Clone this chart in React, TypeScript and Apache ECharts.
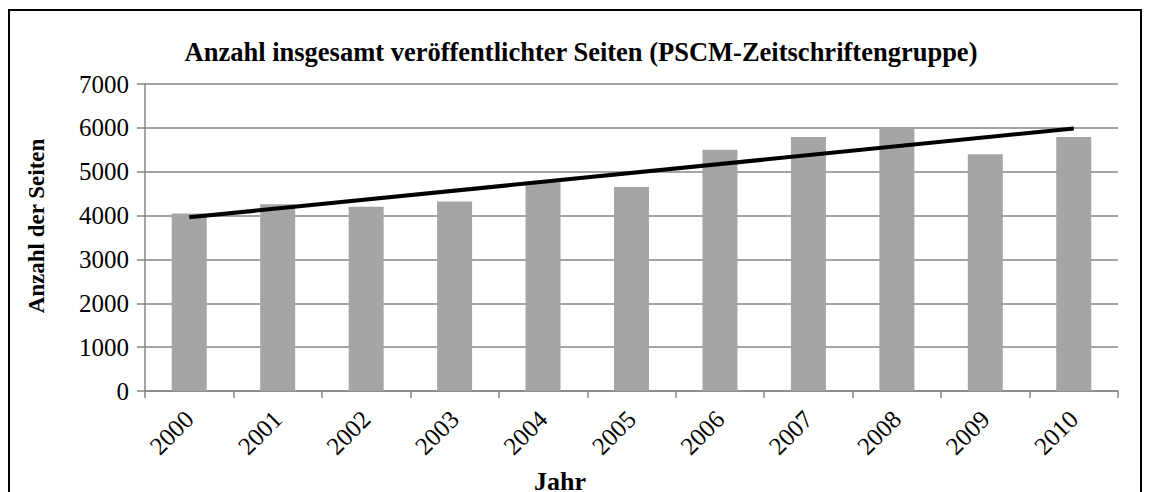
import React, { useEffect, useRef } from "react";
import * as echarts from "echarts";

const years = ["2000", "2001", "2002", "2003", "2004", "2005", "2006", "2007", "2008", "2009", "2010"];
const pages = [4050, 4260, 4200, 4320, 4760, 4650, 5500, 5790, 6000, 5400, 5790];
const trendEnds = [3960, 5985];
const yTicks = [0, 1000, 2000, 3000, 4000, 5000, 6000, 7000];

const titleText = "Anzahl insgesamt veröffentlichter Seiten (PSCM-Zeitschriftengruppe)";
const yName = "Anzahl der Seiten";
const xName = "Jahr";

const FONT = "Liberation Serif";

export default function App() {
  const ref = useRef<HTMLDivElement>(null);
  useEffect(() => {
    if (!ref.current) return;
    const chart = echarts.init(ref.current, null, { renderer: "svg" });
    const trendData = years.map((_, i) =>
      i === 0 ? trendEnds[0] : i === years.length - 1 ? trendEnds[1] : null
    );
    chart.setOption({
      animation: false,
      backgroundColor: "#ffffff",
      title: {
        text: titleText,
        left: 576,
        textAlign: "center",
        top: 33,
        textStyle: { fontFamily: FONT, fontSize: 26.5, fontWeight: "bold", color: "#000" },
      },
      grid: { left: 145, right: 31, top: 84, bottom: 101, containLabel: false },
      xAxis: {
        type: "category",
        data: years,
        boundaryGap: true,
        axisLine: { lineStyle: { color: "#868686", width: 1.5 } },
        axisTick: { show: true, length: 7, lineStyle: { color: "#868686", width: 1.5 } },
        axisLabel: {
          rotate: 45,
          margin: 24,
          fontFamily: FONT,
          fontSize: 25,
          color: "#000",
          interval: 0,
        },
      },
      yAxis: {
        type: "value",
        min: yTicks[0],
        max: yTicks[yTicks.length - 1],
        interval: 1000,
        axisLine: { show: true, lineStyle: { color: "#868686", width: 1.5 } },
        axisTick: { show: true, length: 8, lineStyle: { color: "#868686", width: 1.5 } },
        axisLabel: {
          fontFamily: FONT,
          fontSize: 25,
          color: "#000",
          margin: 16,
          formatter: (v: number) => String(v),
        },
        splitLine: { show: true, lineStyle: { color: "#868686", width: 1.5 } },
      },
      series: [
        {
          type: "bar",
          data: pages,
          barWidth: 35,
          itemStyle: { color: "#a5a5a5" },
        },
        {
          type: "line",
          data: trendData,
          connectNulls: true,
          symbol: "none",
          lineStyle: { color: "#000", width: 4 },
          z: 5,
        },
      ],
      graphic: [
        {
          type: "rect",
          shape: { x: 9, y: 10, width: 1132, height: 500 },
          style: { fill: "none", stroke: "#000", lineWidth: 2 },
          silent: true,
        },
        {
          type: "text",
          x: 36,
          y: 226,
          rotation: Math.PI / 2,
          style: {
            text: yName,
            fontFamily: FONT,
            fontSize: 23,
            fontWeight: "bold",
            fill: "#000",
            align: "center",
            verticalAlign: "middle",
          },
        },
        {
          type: "text",
          x: 560,
          y: 481,
          style: {
            text: xName,
            fontFamily: FONT,
            fontSize: 26,
            fontWeight: "bold",
            fill: "#000",
            align: "center",
            verticalAlign: "middle",
          },
        },
      ],
    });
    return () => chart.dispose();
  }, []);
  return (
    <div
      ref={ref}
      style={{ position: "absolute", left: 0, top: 0, width: 1149, height: 492 }}
    />
  );
}
